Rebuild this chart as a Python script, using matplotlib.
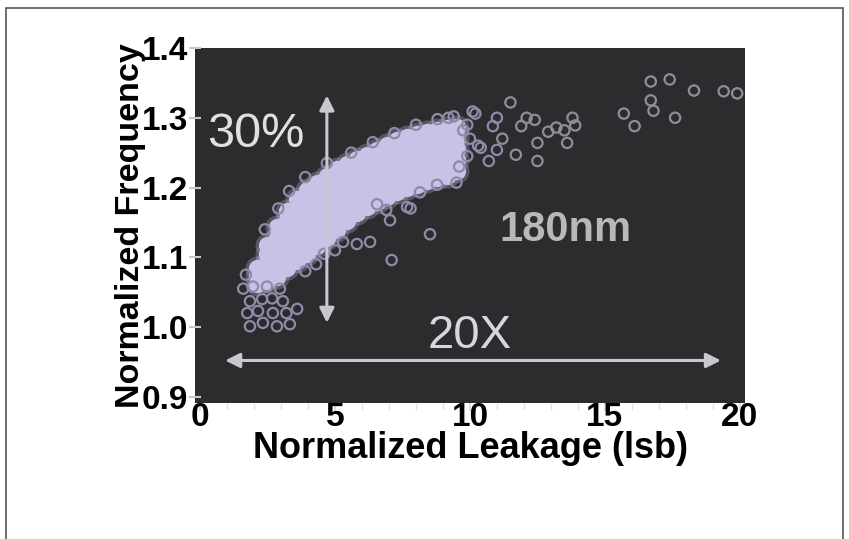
import numpy as np
import matplotlib.pyplot as plt
from matplotlib.patches import Rectangle

# dense part of the cloud: frequency values read per leakage column
band_x = [2.11, 2.48, 2.85, 3.22, 3.59, 3.96, 4.33, 4.70, 5.07, 5.44, 5.81,
          6.19, 6.56, 6.93, 7.30, 7.67, 8.04, 8.41, 8.78, 9.15, 9.52]
band_y = [
    [1.062, 1.073, 1.084],
    [1.066, 1.079, 1.092, 1.105, 1.118],
    [1.072, 1.086, 1.100, 1.114, 1.128, 1.143],
    [1.084, 1.098, 1.112, 1.126, 1.140, 1.154, 1.167],
    [1.094, 1.107, 1.120, 1.133, 1.146, 1.159, 1.171, 1.183],
    [1.105, 1.118, 1.131, 1.144, 1.157, 1.170, 1.183, 1.196],
    [1.116, 1.129, 1.142, 1.155, 1.168, 1.181, 1.194, 1.206],
    [1.128, 1.141, 1.154, 1.167, 1.180, 1.192, 1.205, 1.217],
    [1.139, 1.151, 1.164, 1.176, 1.189, 1.201, 1.214, 1.226],
    [1.152, 1.164, 1.177, 1.189, 1.201, 1.213, 1.225, 1.234],
    [1.163, 1.176, 1.189, 1.202, 1.215, 1.228, 1.241],
    [1.172, 1.184, 1.197, 1.209, 1.222, 1.234, 1.247],
    [1.179, 1.191, 1.204, 1.216, 1.229, 1.241, 1.254],
    [1.186, 1.198, 1.211, 1.223, 1.236, 1.248, 1.261],
    [1.193, 1.205, 1.218, 1.230, 1.243, 1.255, 1.268],
    [1.199, 1.211, 1.223, 1.236, 1.248, 1.260, 1.272],
    [1.204, 1.216, 1.228, 1.241, 1.253, 1.265, 1.277],
    [1.209, 1.223, 1.237, 1.251, 1.265, 1.279],
    [1.213, 1.227, 1.241, 1.254, 1.268, 1.282],
    [1.217, 1.231, 1.244, 1.258, 1.271, 1.285],
    [1.223, 1.239, 1.255, 1.271, 1.287],
]

# open circles around the edge of the cloud
edge_x = [1.96, 2.48, 2.96, 1.85, 2.30, 2.67, 3.07, 1.75, 2.15, 2.70, 3.20, 3.60,
          1.85, 2.33, 2.85, 3.33, 1.70, 1.60, 3.90, 4.30, 4.60, 5.00,
          5.30, 5.81, 6.30, 7.04, 7.67, 8.52, 7.10, 6.56, 8.15, 8.78, 9.50,
          2.40, 2.90, 3.30, 3.90, 4.70, 5.60, 6.40, 7.20, 8.00, 8.80,
          9.40, 9.75, 10.10, 10.40, 10.85, 11.00, 10.70, 10.30, 10.20, 11.00,
          9.90, 9.60, 10.00, 9.20, 9.90, 7.80, 6.90]
edge_y = [1.058, 1.058, 1.055, 1.037, 1.040, 1.041, 1.037, 1.020, 1.023, 1.020, 1.020, 1.026,
          1.001, 1.006, 1.001, 1.004, 1.075, 1.055, 1.080, 1.090, 1.105, 1.110,
          1.122, 1.119, 1.122, 1.153, 1.172, 1.133, 1.096, 1.176, 1.193, 1.204, 1.207,
          1.140, 1.170, 1.195, 1.215, 1.235, 1.250, 1.265, 1.278, 1.290, 1.298,
          1.302, 1.282, 1.309, 1.257, 1.288, 1.254, 1.238, 1.260, 1.306, 1.300,
          1.245, 1.230, 1.270, 1.300, 1.290, 1.170, 1.168]

# sparse circles at high leakage
tail_x = [11.50, 12.10, 11.90, 12.40, 12.90, 13.20, 13.50, 13.80, 13.90, 13.60,
          12.50, 11.70, 12.50, 11.20, 15.70, 16.10, 16.70, 17.40, 16.70, 16.80,
          17.60, 18.30, 19.40, 19.90]
tail_y = [1.322, 1.300, 1.288, 1.297, 1.280, 1.286, 1.282, 1.300, 1.289, 1.264,
          1.264, 1.247, 1.238, 1.270, 1.306, 1.288, 1.352, 1.355, 1.325, 1.310,
          1.300, 1.339, 1.338, 1.335]

core_x = [x for x, ys in zip(band_x, band_y) for _ in ys]
core_y = [y for ys in band_y for y in ys]

plt.rcParams['font.family'] = ['Liberation Sans', 'DejaVu Sans']

fig = plt.figure(figsize=(8.49, 5.39), dpi=100)
fig.patch.set_facecolor('white')
fig.patches.append(Rectangle((6/849, -0.05), 837/849, 1.05 - 8/539, transform=fig.transFigure,
                             fill=False, edgecolor='#555555', lw=1.2))

ax = fig.add_axes([0.2297, 0.2523, 0.6478, 0.6586])
ax.set_facecolor('#2c2c2e')
for s in ax.spines.values():
    s.set_visible(False)

# soft halo, then the solid core, then the open circles
ax.scatter(core_x, core_y, s=300, color='#b4b1d8', alpha=0.3, linewidths=0, zorder=2)
ax.scatter(core_x, core_y, s=130, color='#c6c3e6', edgecolors='#c6c3e6', zorder=2)
ax.scatter(edge_x, edge_y, s=55, facecolors='none', edgecolors='#8e8ba8', linewidths=1.6, zorder=3)
ax.scatter(tail_x, tail_y, s=55, facecolors='none', edgecolors='#8f8d9c', linewidths=1.6, zorder=3)

ax.set_xlim(-0.185, 20.19)
ax.set_ylim(0.891, 1.40)
ax.set_xticks([0, 5, 10, 15, 20])
ax.set_xticks(np.arange(1, 20), minor=True)
ax.set_yticks([0.9, 1.0, 1.1, 1.2, 1.3, 1.4])
ax.set_yticklabels(['0.9', '1.0', '1.1', '1.2', '1.3', '1.4'])
ax.tick_params(axis='y', direction='inout', length=8, width=1.5, color='#c8c8c8',
               labelsize=24, pad=1)
ax.tick_params(axis='x', which='major', direction='out', length=6, width=1.2, color='#d8d8d8',
               labelsize=24, pad=-7)
ax.tick_params(axis='x', which='minor', direction='out', length=5, width=1, color='#e2e2e2')
for lab in ax.get_xticklabels() + ax.get_yticklabels():
    lab.set_fontweight('bold')

ax.set_xlabel('Normalized Leakage (lsb)', fontsize=26, fontweight='bold', labelpad=-1)
ax.set_ylabel('Normalized Frequency', fontsize=24.5, fontweight='bold', labelpad=-3)

arrow = dict(arrowstyle='<|-|>', color='#c8c8d2', lw=2.2, mutation_scale=22, shrinkA=0, shrinkB=0)
ax.annotate('', xy=(4.7, 1.332), xytext=(4.7, 1.006), arrowprops=arrow)
ax.annotate('', xy=(0.93, 0.952), xytext=(19.3, 0.952), arrowprops=arrow)

ax.text(0.28, 1.276, '30%', fontsize=35, color='#e0e0e0', ha='left', va='center')
ax.text(13.55, 1.139, '180nm', fontsize=30, color='#b8b8b8', fontweight='bold', ha='center', va='center')
ax.text(10.0, 0.987, '20X', fontsize=34, color='#d6d6de', ha='center', va='center')

fig.savefig('out.png', dpi=100)
